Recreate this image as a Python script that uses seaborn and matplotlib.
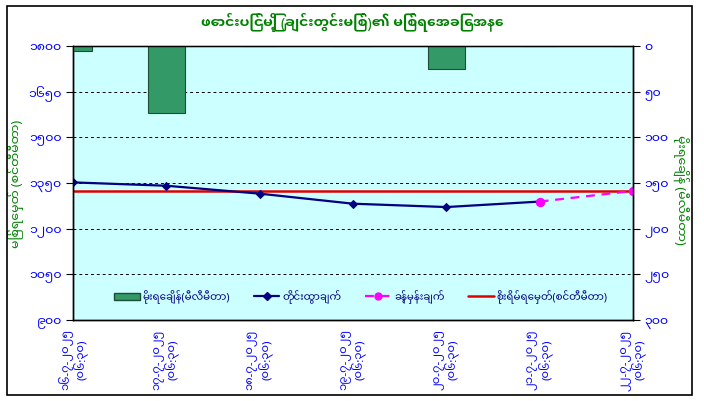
import numpy as np
import pandas as pd
import seaborn as sns
import matplotlib.pyplot as plt
from matplotlib.ticker import FuncFormatter, MultipleLocator
from matplotlib.lines import Line2D
from matplotlib.patches import Patch, Rectangle

# data
dates = ["၁၆-၇-၂၀၂၅", "၁၇-၇-၂၀၂၅", "၁၈-၇-၂၀၂၅", "၁၉-၇-၂၀၂၅",
         "၂၀-၇-၂၀၂၅", "၂၁-၇-၂၀၂၅", "၂၂-၇-၂၀၂၅"]
time_label = "(၀၆:၃၀)"
rainfall = [6, 73, 0, 0, 25, 0, 0]                      # mm, right axis
observed = [1352, 1341, 1315, 1282, 1271, 1289]         # cm
forecast = [1289, 1324]                                 # cm, last two days
danger_level = 1325

title = "ဖောင်းပြင်မြို့ (ချင်းတွင်းမြစ်)၏ မြစ်ရေအခြေအနေ"
left_label = "မြစ်ရေမှတ် (စင်တီမီတာ)"
right_label = "မိုးရေချိန် (မီလီမီတာ)"
legend_labels = ["မိုးရေချိန်(မီလီမီတာ)", "တိုင်းထွာချက်", "ခန့်မှန်းချက်",
                 "စိုးရိမ်ရေမှတ်(စင်တီမီတာ)"]

mm_digits = "၀၁၂၃၄၅၆၇၈၉"
def to_mm(v, pos=None):
    return "".join(mm_digits[int(c)] if c.isdigit() else c for c in str(int(round(v))))


sns.set_style("white")
plt.rcParams['font.family'] = ['Noto Sans Myanmar UI', 'Noto Sans Myanmar', 'DejaVu Sans']

idx = np.arange(len(dates))
df_rain = pd.DataFrame({"x": idx, "rain": rainfall})
df_obs = pd.DataFrame({"x": idx[:len(observed)], "level": observed})
df_fc = pd.DataFrame({"x": idx[len(observed) - 1:], "level": forecast})

fig = plt.figure(figsize=(7.04, 4.02), dpi=100)
fig.patch.set_facecolor("white")
ax1 = fig.add_axes([73 / 704, 1 - 321 / 402, 560 / 704, 274 / 402])
ax1.set_facecolor("#CCFFFF")
ax2 = ax1.twinx()

blue = "#0000FF"
green = "#008000"

# river level lines
ax1.axhline(danger_level, color="#E00000", lw=1.8, zorder=2)
sns.lineplot(data=df_obs, x="x", y="level", ax=ax1, color="#000080", lw=1.6,
             marker="D", markersize=4, markeredgecolor="#000080", zorder=3)
sns.lineplot(data=df_fc, x="x", y="level", ax=ax1, color="#FF00FF", lw=1.6,
             linestyle=(0, (4, 3)), marker="o", markersize=6,
             markeredgecolor="#FF00FF", zorder=4)

ax1.set_xlim(0, len(dates) - 1)
ax1.set_ylim(900, 1800)
ax1.yaxis.set_major_locator(MultipleLocator(150))
ax1.yaxis.set_major_formatter(FuncFormatter(to_mm))
ax1.grid(axis="y", color="black", linestyle=(0, (3, 3)), lw=0.7)
ax1.set_xticks(idx)
ax1.set_xticklabels([d + "\n" + time_label for d in dates], rotation=90,
                    color=blue, fontsize=8.3, va="top", ha="center",
                    linespacing=1.0)
ax1.tick_params(axis="y", colors=blue, labelsize=9, direction="out", length=5, pad=3)
ax1.tick_params(axis="x", length=4, direction="out", pad=2)
ax1.tick_params(axis="both", which="both", color="black")
ax1.set_xlabel("")
ax1.set_ylabel(left_label, color=green, fontsize=9, va="center")
ax1.yaxis.set_label_coords(-0.102, 0.5)

# rainfall bars hanging from the top on the reversed right axis
sns.barplot(data=df_rain, x="x", y="rain", ax=ax2, native_scale=True,
            color="#339966", edgecolor="#1A4D33", linewidth=0.8,
            width=0.4, saturation=1, zorder=2)
ax2.set_xlim(0, len(dates) - 1)
ax2.set_ylim(300, 0)
ax2.yaxis.set_major_locator(MultipleLocator(50))
ax2.yaxis.set_major_formatter(FuncFormatter(to_mm))
ax2.tick_params(axis="y", colors=blue, labelsize=9, direction="out", length=5, pad=3)
ax2.tick_params(axis="y", color="black")
ax2.set_ylabel(right_label, color=green, fontsize=9, rotation=-90, va="center")
ax2.yaxis.set_label_coords(1.086, 0.48)
ax2.set_xlabel("")

for ax in (ax1, ax2):
    for s in ax.spines.values():
        s.set_color("black")
        s.set_linewidth(1.0)
ax1.spines["top"].set_color("#888888")

handles = [
    Patch(facecolor="#339966", edgecolor="#1A4D33"),
    Line2D([], [], color="#000080", lw=1.6, marker="D", markersize=4),
    Line2D([], [], color="#FF00FF", lw=1.6, linestyle=(0, (4, 3)), marker="o", markersize=5),
    Line2D([], [], color="#E00000", lw=1.8),
]
leg = ax2.legend(handles, legend_labels, ncol=4, loc="center",
                 bbox_to_anchor=(0.514, 0.088), frameon=False, fontsize=7.4,
                 handlelength=2.5, columnspacing=2.3, handletextpad=0.3)
for t in leg.get_texts():
    t.set_color("#000080")

fig.text(0.5, 0.945, title, ha="center", va="center", color=green,
         fontsize=10, fontweight="bold")

# chart border
fig.patches.append(Rectangle((7 / 704, 6 / 402), 685 / 704, 389 / 402,
                             transform=fig.transFigure, fill=False,
                             edgecolor="black", lw=1.2))

fig.savefig("out.png", dpi=100)
